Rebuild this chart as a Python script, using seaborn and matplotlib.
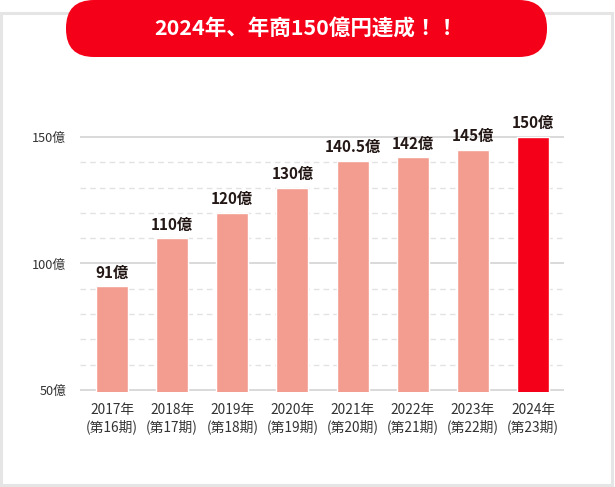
import matplotlib
matplotlib.use("Agg")
import matplotlib.pyplot as plt
import seaborn as sns
from matplotlib.patches import FancyBboxPatch, Rectangle
from matplotlib.ticker import FixedLocator

years = ["2017年", "2018年", "2019年", "2020年", "2021年", "2022年", "2023年", "2024年"]
periods = ["(第16期)", "(第17期)", "(第18期)", "(第19期)", "(第20期)", "(第21期)", "(第22期)", "(第23期)"]
values = [91, 110, 120, 130, 140.5, 142, 145, 150]
value_labels = ["91億", "110億", "120億", "130億", "140.5億", "142億", "145億", "150億"]
ytick_values = [50, 100, 150]
ytick_labels = ["50億", "100億", "150億"]
title = "2024年、年商150億円達成！！"

sns.set_theme(style="white")
plt.rcParams["font.family"] = ["Noto Sans CJK JP", "DejaVu Sans"]

W, H = 615, 487
fig = plt.figure(figsize=(W / 100, H / 100), dpi=100)
fig.patch.set_facecolor("white")

# background decoration axes in pixel coordinates
bg = fig.add_axes([0, 0, 1, 1], zorder=0)
bg.set_xlim(0, W)
bg.set_ylim(H, 0)
bg.axis("off")
bg.add_patch(Rectangle((1, 13), W - 4, H - 15, facecolor="white",
                       edgecolor="#e5e5e5", linewidth=2.2))
bg.add_patch(FancyBboxPatch((66, 0), 481, 57,
                            boxstyle="round,pad=0,rounding_size=28",
                            facecolor="#f50019", edgecolor="none"))
bg.text(306, 28, title, color="white", fontsize=15.5, fontweight="bold",
        ha="center", va="center")

# main chart axes
left, right, top, bottom = 80, 564, 100, 392
ax = fig.add_axes([left / W, (H - bottom) / H, (right - left) / W, (bottom - top) / H], zorder=1)
ax.patch.set_alpha(0)

labels = [f"{y}\n{p}" for y, p in zip(years, periods)]
colors = ["#f39d90"] * (len(values) - 1) + ["#f50019"]
sns.barplot(x=labels, y=values, hue=labels, palette=colors, legend=False,
            width=0.53, saturation=1, ax=ax, zorder=3)

ax.set_ylim(49.2, 164.6)
ax.set_xlim(-0.532, 7.515)
ax.yaxis.set_major_locator(FixedLocator(ytick_values))
ax.set_yticklabels(ytick_labels)
ax.yaxis.set_minor_locator(FixedLocator([v for v in range(60, 150, 10) if v != 100]))
ax.grid(axis="y", which="major", color="#cfcfcf", linewidth=1.1, linestyle="-")
ax.grid(axis="y", which="minor", color="#e2e2e2", linewidth=1.0, linestyle=(0, (4, 3)))
ax.set_axisbelow(True)
for s in ax.spines.values():
    s.set_visible(False)
ax.tick_params(axis="y", which="both", length=0, pad=10, labelsize=9.2, labelcolor="#333333")
ax.tick_params(axis="x", length=0, pad=8, labelsize=9.9, labelcolor="#333333")
for t in ax.get_xticklabels():
    t.set_linespacing(1.2)
ax.set_xlabel("")
ax.set_ylabel("")

for i, (v, lab) in enumerate(zip(values, value_labels)):
    ax.annotate(lab, (i, v), xytext=(0, 4), textcoords="offset points",
                ha="center", va="bottom", fontsize=11, fontweight="bold",
                color="#231815")

fig.savefig("out.png", dpi=100)
